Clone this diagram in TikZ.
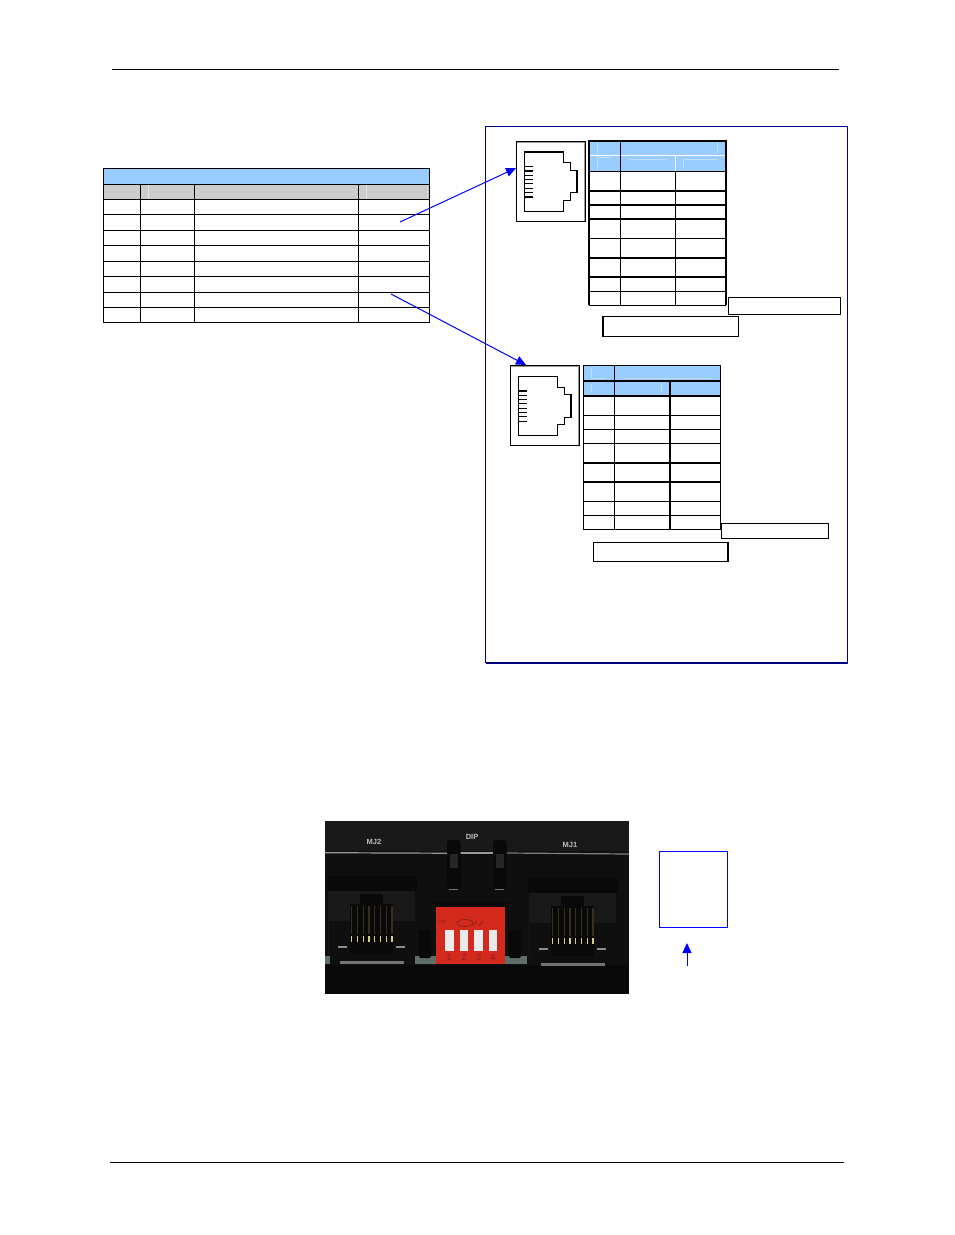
\documentclass[tikz,border=0pt]{standalone}
\usepackage{fontspec}
\setmainfont{Liberation Sans}
\usetikzlibrary{arrows.meta,positioning}
\definecolor{hdrblue}{HTML}{99CCFF}
\definecolor{hdrgray}{HTML}{CCCCCC}
\definecolor{framenavy}{HTML}{000080}
\definecolor{arrowblue}{HTML}{0000FF}
\definecolor{dipred}{HTML}{D42A1E}
\definecolor{dipdark}{HTML}{8A2018}
\definecolor{photoband}{HTML}{191919}
\definecolor{photobody}{HTML}{0F0F0F}
\definecolor{photoface}{HTML}{191919}
\definecolor{photobase}{HTML}{090909}
\definecolor{pcbgreen}{HTML}{5F6E66}
\definecolor{pingold}{HTML}{D8CE8C}
\definecolor{pindim}{HTML}{3A2E1C}
\tikzset{
  jackbox/.style={draw=black!40,double=black,double distance=.7pt,line width=.5pt,fill=white,minimum width=#1,inner sep=0pt},
  notebox/.style={draw,line width=1pt,inner sep=0pt},
  plug/.style={draw,line width=1pt,line join=miter},
  rule/.style={draw,line width=1pt},
  ghost/.style={white!35!hdrblue,line width=.7pt},
  pointer/.style={-{Triangle[length=10pt,width=9pt]},arrowblue,line width=1pt},
  photolabel/.style={text=black!25,font=\bfseries\fontsize{7.5}{7.5}\selectfont,inner sep=0pt},
  pinlabel/.style={text=dipdark,font=\fontsize{9}{9}\selectfont,inner sep=0pt}
}
\begin{document}
\begin{tikzpicture}[x=1pt,y=-1pt]
   \useasboundingbox (0,0) rectangle (954,1235);
   % page rules
   \coordinate (topa) at (112,69.5);
   \coordinate (topb) at (839,69.5);
   \coordinate (bota) at (110,1162);
   \coordinate (botb) at (844,1162);
   \draw[line width=0.8pt] (topa) -- (topb);
   \draw[line width=0.8pt] (bota) -- (botb);

   % pin table
   \fill[hdrblue] (104,169) rectangle (429,184);
   \fill[hdrgray] (104,184) rectangle (429,199);
   \draw[white!50!hdrgray,line width=.7pt] (148.3,185) -- (148.3,198);
   \draw[white!50!hdrgray,line width=.7pt] (366,185) -- (366,198);
   \draw[rule] (103.7,168.7) rectangle (429.3,322.3);
   \foreach \y in {184.3,199.3,214.3,230.3,245.3,261.7,276.7,292.3,307.7}
     \draw[rule] (103.7,\y) -- (429.3,\y);
   \foreach \x in {140.3,194.3,358.3}
     \draw[rule] (\x,184.3) -- (\x,322.3);

   % outer frame
   \draw[framenavy,line width=1pt] (485.5,126.3) rectangle (847.6,662.6);
   \draw[framenavy,line width=2pt] (485.5,662.6) -- (847.6,662.6);

   % upper jack
   \node[jackbox=68.7pt,minimum height=79.7pt] (jacka) at (550.8,181.6) {};
   \draw[plug] (524.3,151.7) -| (563.3,162.7) -| (570.7,170.7) -| (577.3,192.7)
     -| (570.7,200) -| (563.3,211.3) -| (524.3,151.7);
   \draw[line width=1.8pt] (524.3,151.7) -- (563.3,151.7);
   \draw[line width=1.8pt] (577.3,170.7) -- (577.3,192.7);
   \foreach \y/\w in {166.3/0.8,170.7/1.6,175/0.8,179.3/0.8,183.7/0.8,188/0.8,192.7/0.8,197/1.6}
     \draw[line width=\w pt] (524.3,\y) -- (533,\y);

   % upper table
   \fill[hdrblue] (589,141) rectangle (726,171);
   \draw[ghost] (597.3,142) -- (597.3,153);
   \draw[ghost] (717.3,142) -- (717.3,153);
   \draw[ghost] (597.3,170) |- (612,157.7);
   \draw[ghost] (629.3,159.3) -- (667,159.3);
   \draw[ghost] (683.3,168) |- (717.3,159.3);
   \draw[white,line width=1pt] (589,155.3) -- (726,155.3);
   \draw[white,line width=1pt] (675.3,155.3) -- (675.3,171);
   \draw[line width=1pt] (620.3,141) -- (620.3,305.3);
   \draw[line width=1pt] (675.3,171) -- (675.3,305.3);
   \foreach \y/\w in {171/1,190.7/2,205/2,219/2,238.3/1,257.7/2,276.7/2,291.7/1,305.3/1.2}
     \draw[line width=\w pt] (589,\y) -- (726,\y);
   \draw[line width=2pt] (589,305.3) |- (726,140.7) -- (726,305.3);
   \node[notebox,minimum width=112.4pt,minimum height=17pt] (notea) at (784.5,305.8) {};
   \node[notebox,minimum width=136pt,minimum height=20.4pt] (noteb) at (670.7,326.5) {};
   \draw[line width=1.8pt] (603.2,316.3) -- (603.2,336.7);

   % lower jack
   \node[jackbox=68.5pt,minimum height=79.9pt] (jackb) at (544.7,405.6) {};
   \draw[plug] (518.3,376.3) -| (557.3,387) -| (564.7,394.3) -| (571.3,417.3)
     -| (564.7,424.3) -| (557.3,435.7) -| (518.3,376.3);
   \draw[line width=1.8pt] (571.3,394.3) -- (571.3,417.3);
   \foreach \y/\w in {390.7/1.6,395/0.8,399.3/0.8,403.7/0.8,408/0.8,412.3/0.8,416.7/0.8,421.3/0.8}
     \draw[line width=\w pt] (518.3,\y) -- (527,\y);

   % lower table
   \fill[hdrblue] (583.3,365.3) rectangle (720.3,395.7);
   \draw[ghost] (591.3,367) |- (606,378.3);
   \draw[ghost] (623.3,378.3) -- (712,378.3);
   \draw[ghost] (591.3,384) -- (591.3,393.3);
   \draw[ghost] (661.7,384) -- (661.7,393.3);
   \draw[line width=1pt] (614.3,365.3) -- (614.3,529.3);
   \draw[line width=1.8pt] (670,380.7) -- (670,529.3);
   \foreach \y/\w in {380.7/1.8,395.7/1.8,415.3/1,429.3/1,443.3/1,462.7/2,482/2,501.3/1,515.3/1}
     \draw[line width=\w pt] (583.3,\y) -- (720.3,\y);
   \draw[line width=1pt] (583.3,365.3) rectangle (720.3,529.3);
   \node[notebox,minimum width=107.4pt,minimum height=15.4pt] (notec) at (775,531) {};
   \node[notebox,minimum width=135pt,minimum height=19pt] (noted) at (660.8,551.8) {};
   \draw[line width=1.8pt] (728,542.3) -- (728,561.3);

   % pointers
   \coordinate (froma) at (400,222);
   \coordinate (fromb) at (391,294);
   \coordinate (tipa) at (516,168);
   \coordinate (tipb) at (526,365);
   \draw[pointer] (froma) -- (tipa);
   \draw[pointer] (fromb) -- (tipb);

   % photo
   \fill[photobody] (325,821) rectangle (629,994);
   \fill[photoband] (325,821) rectangle (629,851);
   \fill[photobase] (325,965) rectangle (629,994);
   \draw[black!40,line width=1.2pt] (325,852.7) -- (447,853.2);
   \draw[black!40,line width=1.2pt] (460,853) -- (493,853);
   \draw[black!50,line width=1.2pt] (507,853) -- (629,854);
   % slots
   \foreach \x in {447,493} {
     \fill[photobase,rounded corners=3pt] (\x,840) rectangle ++(13.5,49);
     \fill[black!85] (\x+3,854) rectangle ++(7.5,14);
     \fill[black!55] (\x+2,888.5) rectangle ++(9,1.2);
   }
   % green board patches
   \fill[pcbgreen] (325,956) rectangle (330,964);
   \fill[pcbgreen] (415,956) rectangle (436,964);
   \fill[pcbgreen] (505,956) rectangle (527,964);
   \fill[photobase,rounded corners=2pt] (419,930) rectangle (431,958);
   \fill[photobase,rounded corners=2pt] (509,930) rectangle (521,958);
   % jacks
   \foreach \x/\yy/\n in {327/876/0,528/878/1} {
     \fill[photobase] (\x,\yy) rectangle ++(90,15);
     \fill[photoface] (\x+1,\yy+15) rectangle ++(87,63);
     \fill[photobody] (\x+2,\yy+45) rectangle ++(22,33);
     \fill[photobody] (\x+62,\yy+45) rectangle ++(26,33);
     \fill[photobase] (\x+33,\yy+18) rectangle ++(23,10);
     \fill[photobase] (\x+23,\yy+28) rectangle ++(43,50);
     \foreach \i in {0,...,7} {
       \draw[pindim,line width=1.2pt] (\x+24.7+\i*5.75,\yy+30) -- (\x+24.7+\i*5.75,\yy+58);
       \draw[pingold,line width=1.4pt] (\x+24.7+\i*5.75,\yy+60) -- (\x+24.7+\i*5.75,\yy+66);
     }
     \fill[black!45] (\x+11,\yy+69.5) rectangle ++(9,2);
     \fill[black!45] (\x+69,\yy+69.5) rectangle ++(9,2);
     \fill[black!55] (\x+13,\yy+85) rectangle ++(64,3);
   }
   % dip switch
   \fill[photobase] (431,902) rectangle (510,907);
   \fill[dipred] (436,906.5) rectangle (505,964);
   \draw[dipdark,line width=.7pt] (465,923) ellipse (8 and 3.5);
   \draw[dipdark,line width=.7pt] (477,921) -- (473,926);
   \draw[dipdark,line width=.7pt] (483,921) -- (479,926);
   \foreach \x in {445,459.5,474,488.5}
     \fill[black!8] (\x,930) rectangle ++(8.5,21);
   \node[photolabel] (mjtwo) at (374,842) {MJ2};
   \node[photolabel] (dip) at (472,836.5) {DIP};
   \node[photolabel] (mjone) at (570,844.5) {MJ1};
   \node[text=dipdark,font=\fontsize{5}{5}\selectfont,inner sep=0pt] (dipon) at (441.7,922) {ON};
   \node[pinlabel] (swa) at (449,957.8) {1};
   \node[pinlabel] (swb) at (464,957.8) {2};
   \node[pinlabel] (swc) at (478.5,957.8) {3};
   \node[pinlabel] (swd) at (493,957.8) {4};

   % legend box
   \node[draw=arrowblue,line width=1pt,inner sep=0pt,minimum width=67.4pt,minimum height=76pt] (legend) at (693.5,889.8) {};
   \coordinate (upfrom) at (687,966);
   \coordinate (upto) at (687,943);
   \draw[pointer] (upfrom) -- (upto);
\end{tikzpicture}
\end{document}
